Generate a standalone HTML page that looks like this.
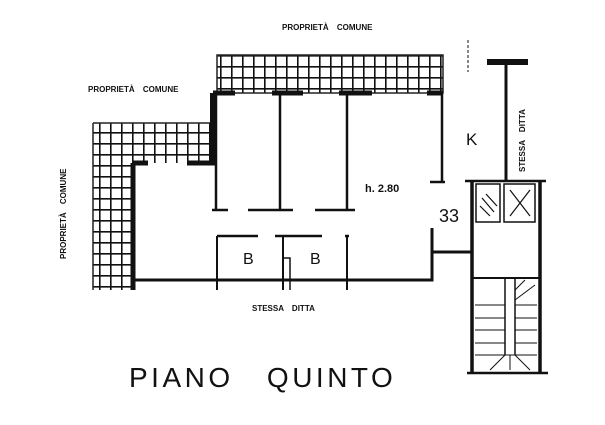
<!DOCTYPE html>
<html><head><meta charset="utf-8"><style>
html,body{margin:0;padding:0;background:#fff;}
svg{display:block;}
.s{font-family:"Liberation Sans",sans-serif;font-weight:bold;font-size:8px;fill:#111;word-spacing:6px;}
</style></head><body>
<svg width="605" height="425" viewBox="0 0 605 425" xmlns="http://www.w3.org/2000/svg">
<defs>
<pattern id="g" x="0" y="0" width="11" height="11" patternUnits="userSpaceOnUse">
<rect width="11" height="11" fill="#fff"/>
<path d="M0 0.5H11M0.5 0V11" stroke="#111" stroke-width="2.2"/>
</pattern>
</defs>
<rect x="217" y="55" width="226" height="38" fill="url(#g)"/>
<rect x="217" y="55" width="226" height="38" fill="none" stroke="#222" stroke-width="1.5"/>
<rect x="93" y="123" width="122" height="40" fill="url(#g)"/>
<rect x="93" y="163" width="40" height="127" fill="url(#g)"/>
<path d="M93 123H215M93 123V290" stroke="#222" stroke-width="1.5" fill="none"/>
<g stroke="#111" fill="none" stroke-linecap="butt">
<path d="M213 93V163" stroke-width="6"/>
<path d="M133 163V290" stroke-width="5"/>
<path d="M132 163H148M187 163H215" stroke-width="5"/>
<path d="M213 93H235M272 93H303M339 93H372M427 93H443" stroke-width="5"/>
<path d="M216 93V210M280 93V210M347 93V210M442 93V182" stroke-width="2.5"/>
<path d="M212 210H228M248 210H293M315 210H355" stroke-width="2.5"/>
<path d="M430 182H445" stroke-width="2.5"/>
<path d="M133 280H432V228M432 252H472" stroke-width="3"/>
<path d="M217 236H258M275 236H322M345 236H349" stroke-width="2.5"/>
<path d="M217 236V290M283 236V290M347 236V290" stroke-width="2"/>
<path d="M283 258H290V290" stroke-width="1.5"/>
<path d="M487 62H528" stroke-width="6"/>
<path d="M506 65V181" stroke-width="3"/>
<path d="M465 181H546" stroke-width="2.5"/>
<path d="M472 181V373M540 181V373" stroke-width="3.5"/>
<path d="M467 373H548" stroke-width="2.5"/>
<rect x="476" y="184" width="24" height="38" stroke-width="1.5"/>
<rect x="504" y="184" width="31" height="38" stroke-width="1.5"/>
<path d="M510 190L530 216M530 190L510 216" stroke-width="1.2"/>
<path d="M482 198L494 212M486 194L497 206M480 206L490 216" stroke-width="1.2"/>
<path d="M472 278H540" stroke-width="2"/>
<path d="M505 278V355M515 278V355" stroke-width="1.5"/>
<path d="M475 305H505M475 318H505M475 330H505M475 343H505M475 355H537M515 305H537M515 318H537M515 330H537M515 343H537" stroke-width="1"/>
<path d="M505 355L490 370M510 355L510 370M515 355L530 370M515 300L535 285M515 290L525 280" stroke-width="1"/>
<path d="M468 40V72" stroke-width="1" stroke-dasharray="3 2"/>
</g>
<text class="s" x="282" y="30">PROPRIETÀ COMUNE</text>
<text class="s" x="88" y="92">PROPRIETÀ COMUNE</text>
<text class="s" transform="translate(66,259) rotate(-90)">PROPRIETÀ COMUNE</text>
<text class="s" transform="translate(525,172) rotate(-90)">STESSA DITTA</text>
<text class="s" x="252" y="311">STESSA DITTA</text>
<text x="466" y="145" font-family="Liberation Sans,sans-serif" font-size="17" fill="#111">K</text>
<text x="365" y="192" font-family="Liberation Sans,sans-serif" font-weight="bold" font-size="11" fill="#111">h. 2.80</text>
<text x="439" y="222" font-family="Liberation Sans,sans-serif" font-size="18" fill="#111">33</text>
<text x="243" y="264" font-family="Liberation Sans,sans-serif" font-size="16" fill="#111">B</text>
<text x="310" y="264" font-family="Liberation Sans,sans-serif" font-size="16" fill="#111">B</text>
<text x="129" y="387" font-family="Liberation Sans,sans-serif" font-size="28" letter-spacing="3.5" word-spacing="22" fill="#111">PIANO QUINTO</text>
</svg>
</body></html>
